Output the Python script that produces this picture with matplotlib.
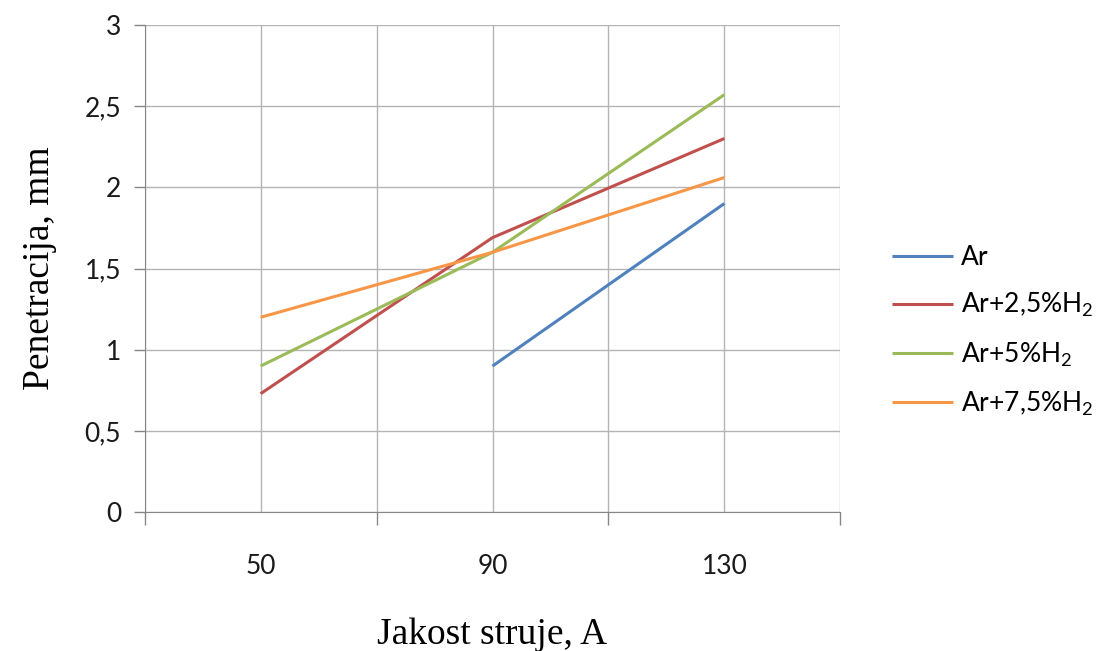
#Importing basic libraries
import matplotlib
matplotlib.use('Agg')
import matplotlib.pyplot as plt

plt.rcParams['font.family'] = ['Lato', 'DejaVu Sans']
plt.rcParams['mathtext.default'] = 'regular'

#Chart data
categories = ['50', '90', '130']
ar = [None, 0.90, 1.90]
ar_25 = [0.73, 1.69, 2.30]
ar_5 = [0.90, 1.60, 2.57]
ar_75 = [1.20, 1.60, 2.06]
labels = ['Ar', 'Ar+2,5%H$_2$', 'Ar+5%H$_2$', 'Ar+7,5%H$_2$']
colors = ['#4F81BD', '#C0504D', '#9BBB59', '#F79646']
y_ticks = [0, 0.5, 1, 1.5, 2, 2.5, 3]

fig = plt.figure(figsize=(11.13, 6.51), dpi=100)
ax = fig.add_axes([0.130, 0.213, 0.625, 0.749])

x = list(range(len(categories)))
for series, lab, col in zip([ar, ar_25, ar_5, ar_75], labels, colors):
    xs = [i for i, v in zip(x, series) if v is not None]
    ys = [v for v in series if v is not None]
    ax.plot(xs, ys, color=col, lw=2.2, label=lab, solid_capstyle='butt')

#Axes and grid
ax.set_xlim(-0.5, len(categories) - 0.5)
ax.set_ylim(0, 3)
ax.set_xticks([i - 0.5 for i in range(len(categories) + 1)])
ax.set_xticklabels([])
ax.set_xticks(x, minor=True)
ax.set_xticklabels(categories, minor=True)
ax.set_yticks(y_ticks)
ax.set_yticklabels([str(t).replace('.', ',') if t % 1 else str(int(t)) for t in y_ticks])

ax.grid(True, which='both', color='#B4B4B4', lw=1.0)
ax.set_axisbelow(True)
ax.tick_params(axis='x', which='major', length=9, width=1, color='#868686', direction='out')
ax.tick_params(axis='x', which='minor', length=0, pad=30, labelsize=19, labelcolor='#1a1a1a')
ax.tick_params(axis='y', length=8, width=1, color='#868686', direction='out', pad=9,
               labelsize=19, labelcolor='#1a1a1a')
for side in ['top', 'right']:
    ax.spines[side].set_visible(False)
for side in ['left', 'bottom']:
    ax.spines[side].set_color('#868686')

ax.set_xlabel('Jakost struje, A', family='Liberation Serif', fontsize=27, labelpad=28)
ax.set_ylabel('Penetracija, mm', family='Liberation Serif', fontsize=27, labelpad=20)

ax.legend(loc='center left', bbox_to_anchor=(1.075, 0.371), frameon=False, fontsize=19,
          handlelength=2.3, handletextpad=0.3, labelspacing=0.8,
          borderaxespad=0, borderpad=0)

plt.savefig('out.png', dpi=100)
